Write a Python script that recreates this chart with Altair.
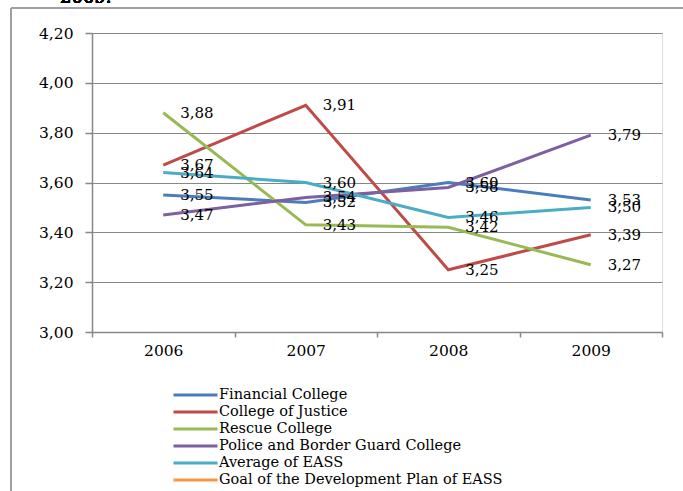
import altair as alt
import pandas as pd

years = ["2006", "2007", "2008", "2009"]
series = [
    "Financial College",
    "College of Justice",
    "Rescue College",
    "Police and Border Guard College",
    "Average of EASS",
    "Goal of the Development Plan of EASS",
]
colors = ["#4A7EBB", "#BE4B48", "#98B954", "#7D60A0", "#4BACC6", "#F79646"]

financial = [3.55, 3.52, 3.60, 3.53]
justice = [3.67, 3.91, 3.25, 3.39]
rescue = [3.88, 3.43, 3.42, 3.27]
police = [3.47, 3.54, 3.58, 3.79]
average = [3.64, 3.60, 3.46, 3.50]
y_ticks = [3.0, 3.2, 3.4, 3.6, 3.8, 4.0, 4.2]

rows = []
for name, vals in zip(series[:5], [financial, justice, rescue, police, average]):
    for yr, v in zip(years, vals):
        rows.append({"year": yr, "series": name, "value": v})
df = pd.DataFrame(rows)

FONT = "DejaVu Serif"
GRAY = "#878787"

x_enc = alt.X(
    "year:N",
    scale=alt.Scale(type="band", domain=years, paddingInner=0, paddingOuter=0),
    bandPosition=0.5,
    axis=alt.Axis(
        title=None, labelAngle=0, tickBand="extent", tickSize=5, labelPadding=6,
        labelFont=FONT, labelFontSize=15.5, labelColor="black",
        domainColor=GRAY, domainWidth=1.5, tickColor=GRAY, tickWidth=1.5, grid=False,
    ),
)
y_enc = alt.Y(
    "value:Q",
    scale=alt.Scale(domain=[3.0, 4.2], nice=False, zero=False),
    axis=alt.Axis(
        title=None, values=y_ticks, tickSize=7, labelPadding=12,
        labelExpr="replace(format(datum.value, '.2f'), '.', ',')",
        labelFont=FONT, labelFontSize=15.5, labelColor="black",
        domainColor=GRAY, domainWidth=1.5, tickColor=GRAY, tickWidth=1.5,
        grid=True, gridColor=GRAY, gridWidth=1.2,
    ),
)
color_enc = alt.Color(
    "series:N",
    scale=alt.Scale(domain=series, range=colors),
    legend=alt.Legend(
        title=None, orient="none", legendX=80, legendY=352,
        symbolType="M-1,0H4.18", symbolSize=289, symbolStrokeWidth=3,
        labelFont=FONT, labelFontSize=14.5, labelColor="black", labelOffset=27,
        rowPadding=0, labelLimit=500, padding=0,
    ),
)

lines = alt.Chart(df).mark_line(strokeWidth=3).encode(
    x=x_enc, y=y_enc, color=color_enc, order=alt.Order("year:N")
)

labels = alt.Chart(df).transform_calculate(
    label="replace(format(datum.value, '.2f'), '.', ',')"
).mark_text(align="left", baseline="middle", dx=17, font=FONT, fontSize=15, color="black").encode(
    x=alt.X("year:N", scale=alt.Scale(type="band", domain=years, paddingInner=0, paddingOuter=0), bandPosition=0.5),
    y=alt.Y("value:Q"),
    text="label:N",
)

frame_left = alt.Chart(df).mark_rule(color="#A0A0A0", strokeWidth=2).encode(
    x=alt.value(-81), y=alt.value(-25), y2=alt.value(480)
)
frame_top = alt.Chart(df).mark_rule(color="#A0A0A0", strokeWidth=2).encode(
    x=alt.value(-81), x2=alt.value(620), y=alt.value(-25)
)
cut_title = alt.Chart(df).mark_text(
    align="left", baseline="alphabetic", font=FONT, fontSize=18, color="black"
).encode(x=alt.value(-32), y=alt.value(-30), text=alt.value("2009."))

chart = alt.layer(frame_left, frame_top, cut_title, lines, labels).properties(
    width=570, height=299,
    autosize=alt.AutoSizeParams(type="none"),
    padding={"left": 92, "top": 33, "right": 21, "bottom": 159},
).configure_view(stroke=None).configure(background="white")

chart.save("out.html", embed_options={"renderer": "svg", "actions": False})
